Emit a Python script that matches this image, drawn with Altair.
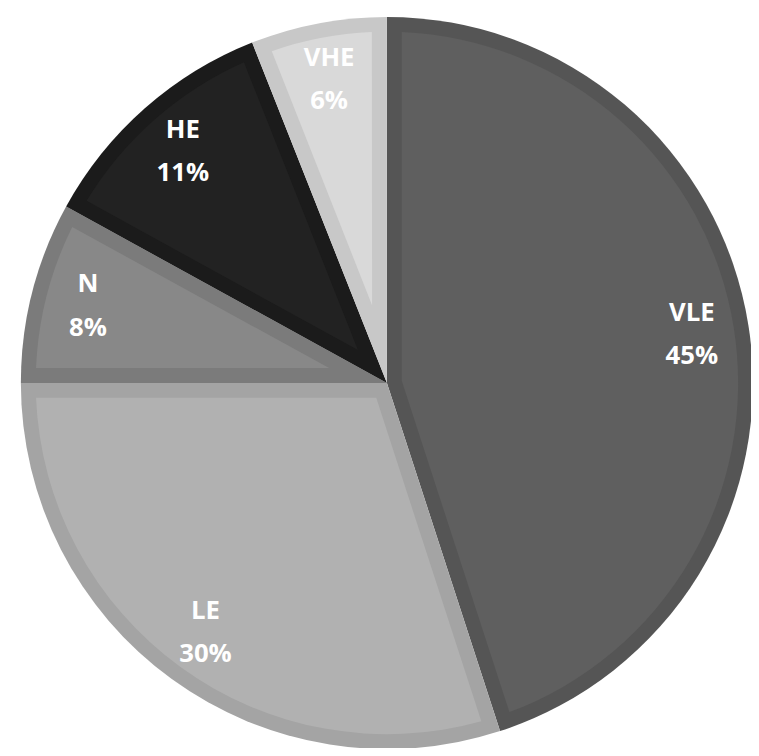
import altair as alt
import pandas as pd

categories = ["VLE", "LE", "N", "HE", "VHE"]
values = [45, 30, 8, 11, 6]
fill_colors = ["#5f5f5f", "#b1b1b1", "#888888", "#222222", "#d9d9d9"]
border_colors = ["#555555", "#a4a4a4", "#7b7b7b", "#1b1b1b", "#c8c8c8"]

df = pd.DataFrame({
    "cat": categories,
    "value": values,
    "idx": list(range(len(categories))),
    "pct": [f"{v}%" for v in values],
})

CX, CY = 383, 375
R_OUT = 370
BORDER = 15
R_IN = R_OUT - BORDER

base = alt.Chart(df).encode(
    theta=alt.Theta("value:Q", stack=True),
    order=alt.Order("idx:Q", sort="ascending"),
)

outer = base.mark_arc(radius=R_OUT, stroke=None).encode(
    x=alt.value(CX), y=alt.value(CY),
    color=alt.Color("cat:N", scale=alt.Scale(domain=categories, range=border_colors), legend=None),
)

inner = base.transform_joinaggregate(
    total="sum(value)"
).transform_calculate(
    ri=f"{BORDER}/sin(PI*datum.value/datum.total)",
    ro=f"{R_IN}",
).mark_arc(padAngle=0.084, stroke=None).encode(
    x=alt.value(CX), y=alt.value(CY),
    radius=alt.Radius("ro:Q", scale=None),
    radius2=alt.Radius2("ri:Q"),
    color=alt.Color("cat:N", scale=alt.Scale(domain=categories, range=fill_colors), legend=None),
)

txt_kw = dict(radius=312, font="Open Sans", fontSize=26, fontWeight="bold", color="white",
              align="center", baseline="middle")
label1 = base.mark_text(dy=-22, **txt_kw).encode(
    x=alt.value(CX), y=alt.value(CY), text="cat:N")
label2 = base.mark_text(dy=22, **txt_kw).encode(
    x=alt.value(CX), y=alt.value(CY), text="pct:N")

chart = alt.layer(outer, inner, label1, label2).resolve_scale(
    color="independent"
).properties(
    width=751, height=740, padding=0,
    autosize=alt.AutoSizeParams(type="none"),
).configure_view(stroke=None)

chart.save("out.html", embed_options={"renderer": "svg", "actions": False})
